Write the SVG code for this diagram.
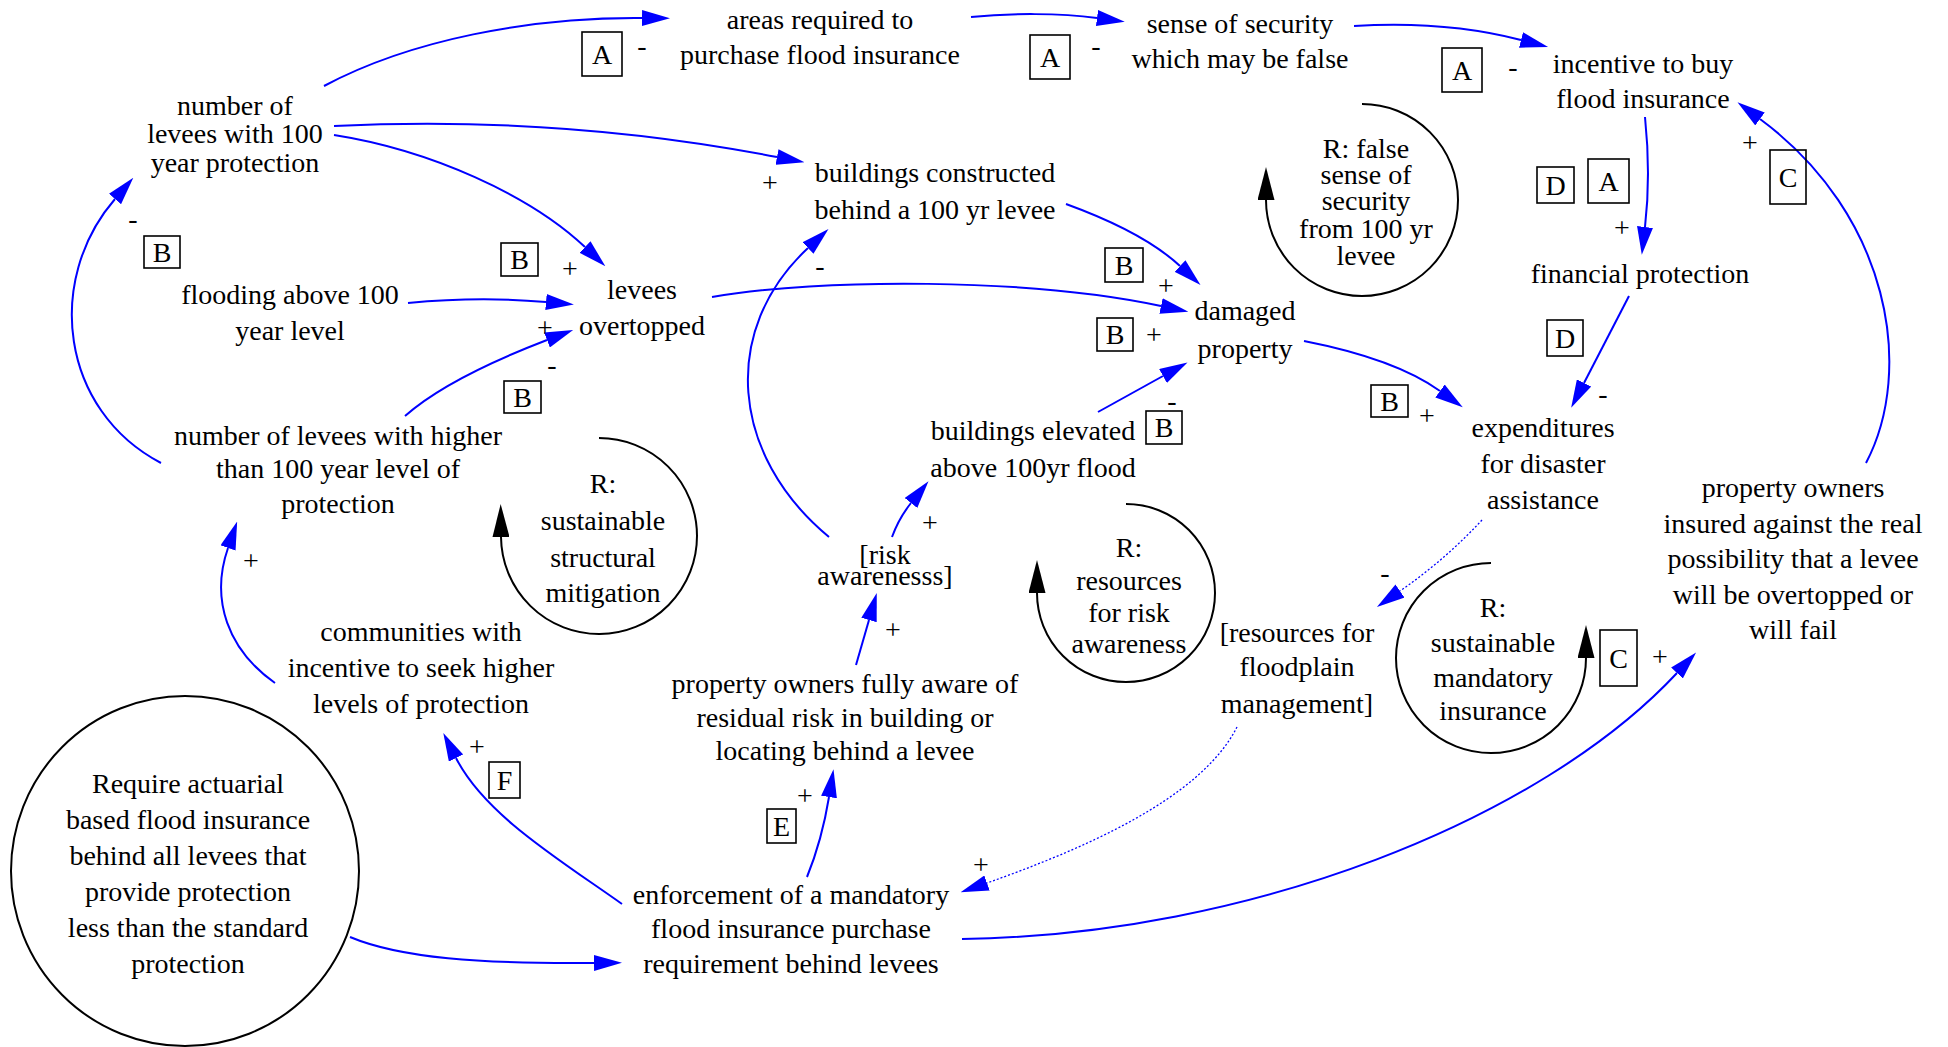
<svg xmlns="http://www.w3.org/2000/svg" width="1948" height="1047" viewBox="0 0 1948 1047">
<style>
.t{font-family:"Liberation Serif","Times New Roman",serif;font-size:28px;fill:#000;text-anchor:middle}
.e{fill:none;stroke:#0000ff;stroke-width:2}
.d{fill:none;stroke:#0000ff;stroke-width:1.3;stroke-dasharray:2,2}
.l{fill:none;stroke:#000;stroke-width:2}
.b{fill:none;stroke:#000;stroke-width:1.6}
</style>
<defs>
<marker id="ab" markerUnits="userSpaceOnUse" markerWidth="28" markerHeight="16" viewBox="0 0 28 16" refX="0" refY="8" orient="auto"><path d="M0,0 L28,8 L0,16 z" fill="#0000ff"/></marker>
<marker id="ak" markerUnits="userSpaceOnUse" markerWidth="33" markerHeight="17" viewBox="0 0 33 17" refX="0" refY="8.5" orient="auto"><path d="M0,0 L33,8.5 L0,17 z" fill="#000"/></marker>
</defs>
<rect width="1948" height="1047" fill="#fff"/>

<g id="connectors">
<path class="e" marker-end="url(#ab)" d="M324,86 C410,40 530,17 642,18"/>
<path class="e" marker-end="url(#ab)" d="M971,17 C1010,13 1060,13 1097,18"/>
<path class="e" marker-end="url(#ab)" d="M1354,26 C1420,22 1475,28 1521,40"/>
<path class="e" marker-end="url(#ab)" d="M334,126 Q560,115 777,157"/>
<path class="e" marker-end="url(#ab)" d="M334,135 C430,150 530,195 585,247"/>
<path class="e" marker-end="url(#ab)" d="M408,303 Q480,296 546,302"/>
<path class="e" marker-end="url(#ab)" d="M405,416 C440,385 495,360 547,340"/>
<path class="e" marker-end="url(#ab)" d="M712,297 C820,278 1030,278 1161,306"/>
<path class="e" marker-end="url(#ab)" d="M1066,204 C1110,220 1152,240 1180,266"/>
<path class="e" marker-end="url(#ab)" d="M1098,412 L1163,376"/>
<path class="e" marker-end="url(#ab)" d="M892,537 Q899,518 911,503"/>
<path class="e" marker-end="url(#ab)" d="M856,665 L869,620"/>
<path class="e" marker-end="url(#ab)" d="M829,537 C730,455 720,330 808,248"/>
<path class="e" marker-end="url(#ab)" d="M1304,341 C1360,352 1408,368 1440,391"/>
<path class="e" marker-end="url(#ab)" d="M1645,117 Q1651,175 1645,227"/>
<path class="e" marker-end="url(#ab)" d="M1629,296 L1584,383"/>
<path class="d" marker-end="url(#ab)" d="M1482,520 Q1445,560 1400,591"/>
<path class="d" marker-end="url(#ab)" d="M1237,727 C1200,800 1080,850 987,883"/>
<path class="e" marker-end="url(#ab)" d="M350,937 C400,958 480,964 594,963"/>
<path class="e" marker-end="url(#ab)" d="M622,904 C560,860 485,815 456,758"/>
<path class="e" marker-end="url(#ab)" d="M807,877 Q822,840 829,797"/>
<path class="e" marker-end="url(#ab)" d="M962,939 C1250,935 1540,820 1677,673"/>
<path class="e" marker-end="url(#ab)" d="M1866,463 C1915,370 1890,215 1760,119"/>
<path class="e" marker-end="url(#ab)" d="M161,463 C60,410 45,280 115,199"/>
<path class="e" marker-end="url(#ab)" d="M275,683 C228,650 210,600 228,548"/>
</g>

<g id="loops">
<g id="loop-false-security">
<path class="l" marker-end="url(#ak)" d="M1362,104 A96,96 0 1,1 1266,200"/>
<text class="t"><tspan x="1366" y="158">R: false</tspan><tspan x="1366" y="184">sense of</tspan><tspan x="1366" y="210">security</tspan><tspan x="1366" y="238">from 100 yr</tspan><tspan x="1366" y="265">levee</tspan></text>
</g>
<g id="loop-structural">
<path class="l" marker-end="url(#ak)" d="M599,438 A98,98 0 1,1 501,537"/>
<text class="t"><tspan x="603" y="493">R:</tspan><tspan x="603" y="530">sustainable</tspan><tspan x="603" y="567">structural</tspan><tspan x="603" y="602">mitigation</tspan></text>
</g>
<g id="loop-risk">
<path class="l" marker-end="url(#ak)" d="M1126,504 A89,89 0 1,1 1037,593"/>
<text class="t"><tspan x="1129" y="557">R:</tspan><tspan x="1129" y="590">resources</tspan><tspan x="1129" y="622">for risk</tspan><tspan x="1129" y="653">awareness</tspan></text>
</g>
<g id="loop-insurance">
<path class="l" marker-end="url(#ak)" d="M1491,563 A95,95 0 1,0 1586,658"/>
<text class="t"><tspan x="1493" y="617">R:</tspan><tspan x="1493" y="652">sustainable</tspan><tspan x="1493" y="687">mandatory</tspan><tspan x="1493" y="720">insurance</tspan></text>
</g>
</g>

<g id="n-levees100"><text class="t"><tspan x="235" y="115">number of</tspan><tspan x="235" y="143">levees with 100</tspan><tspan x="235" y="172">year protection</tspan></text></g>
<g id="n-areas"><text class="t"><tspan x="820" y="29">areas required to</tspan><tspan x="820" y="64">purchase flood insurance</tspan></text></g>
<g id="n-sense"><text class="t"><tspan x="1240" y="33">sense of security</tspan><tspan x="1240" y="68">which may be false</tspan></text></g>
<g id="n-incentive"><text class="t"><tspan x="1643" y="73">incentive to buy</tspan><tspan x="1643" y="108">flood insurance</tspan></text></g>
<g id="n-constructed"><text class="t"><tspan x="935" y="182">buildings constructed</tspan><tspan x="935" y="219">behind a 100 yr levee</tspan></text></g>
<g id="n-overtopped"><text class="t"><tspan x="642" y="299">levees</tspan><tspan x="642" y="335">overtopped</tspan></text></g>
<g id="n-flooding"><text class="t"><tspan x="290" y="304">flooding above 100</tspan><tspan x="290" y="340">year level</tspan></text></g>
<g id="n-damaged"><text class="t"><tspan x="1245" y="320">damaged</tspan><tspan x="1245" y="358">property</tspan></text></g>
<g id="n-elevated"><text class="t"><tspan x="1033" y="440">buildings elevated</tspan><tspan x="1033" y="477">above 100yr flood</tspan></text></g>
<g id="n-higher"><text class="t"><tspan x="338" y="445">number of levees with higher</tspan><tspan x="338" y="478">than 100 year level of</tspan><tspan x="338" y="513">protection</tspan></text></g>
<g id="n-communities"><text class="t"><tspan x="421" y="641">communities with</tspan><tspan x="421" y="677">incentive to seek higher</tspan><tspan x="421" y="713">levels of protection</tspan></text></g>
<g id="n-risk"><text class="t"><tspan x="885" y="564">[risk</tspan><tspan x="885" y="585">awarenesss]</tspan></text></g>
<g id="n-aware"><text class="t"><tspan x="845" y="693">property owners fully aware of</tspan><tspan x="845" y="727">residual risk in building or</tspan><tspan x="845" y="760">locating behind a levee</tspan></text></g>
<g id="n-enforcement"><text class="t"><tspan x="791" y="904">enforcement of a mandatory</tspan><tspan x="791" y="938">flood insurance purchase</tspan><tspan x="791" y="973">requirement behind levees</tspan></text></g>
<g id="n-resources"><text class="t"><tspan x="1297" y="642">[resources for</tspan><tspan x="1297" y="676">floodplain</tspan><tspan x="1297" y="713">management]</tspan></text></g>
<g id="n-expenditures"><text class="t"><tspan x="1543" y="437">expenditures</tspan><tspan x="1543" y="473">for disaster</tspan><tspan x="1543" y="509">assistance</tspan></text></g>
<g id="n-financial"><text class="t" x="1640" y="283">financial protection</text></g>
<g id="n-insured"><text class="t"><tspan x="1793" y="497">property owners</tspan><tspan x="1793" y="533">insured against the real</tspan><tspan x="1793" y="568">possibility that a levee</tspan><tspan x="1793" y="604">will be overtopped or</tspan><tspan x="1793" y="639">will fail</tspan></text></g>
<g id="n-require">
<ellipse class="l" cx="185" cy="871" rx="174" ry="175"/>
<text class="t"><tspan x="188" y="793">Require actuarial</tspan><tspan x="188" y="829">based flood insurance</tspan><tspan x="188" y="865">behind all levees that</tspan><tspan x="188" y="901">provide protection</tspan><tspan x="188" y="937">less than the standard</tspan><tspan x="188" y="973">protection</tspan></text>
</g>

<g id="signs" class="t">
<text x="642" y="55">-</text>
<text x="1096" y="55">-</text>
<text x="1513" y="76">-</text>
<text x="133" y="228">-</text>
<text x="552" y="374">-</text>
<text x="820" y="275">-</text>
<text x="1603" y="403">-</text>
<text x="1172" y="410">-</text>
<text x="1385" y="582">-</text>
<text x="570" y="278">+</text>
<text x="545" y="337">+</text>
<text x="770" y="192">+</text>
<text x="1166" y="295">+</text>
<text x="1154" y="344">+</text>
<text x="1622" y="237">+</text>
<text x="1750" y="152">+</text>
<text x="1427" y="425">+</text>
<text x="930" y="532">+</text>
<text x="251" y="570">+</text>
<text x="893" y="639">+</text>
<text x="1660" y="666">+</text>
<text x="477" y="756">+</text>
<text x="805" y="805">+</text>
<text x="981" y="874">+</text>
</g>

<g id="tags">
<g id="tag-a1"><rect class="b" x="582" y="32" width="40" height="44"/><text class="t" x="602" y="63.5">A</text></g>
<g id="tag-a2"><rect class="b" x="1030" y="35" width="40" height="44"/><text class="t" x="1050" y="66.5">A</text></g>
<g id="tag-a3"><rect class="b" x="1442" y="48" width="40" height="44"/><text class="t" x="1462" y="79.5">A</text></g>
<g id="tag-a4"><rect class="b" x="1588" y="159" width="41" height="44"/><text class="t" x="1608.5" y="190.5">A</text></g>
<g id="tag-d1"><rect class="b" x="1537" y="167" width="37" height="36"/><text class="t" x="1555.5" y="194.5">D</text></g>
<g id="tag-c1"><rect class="b" x="1770" y="150" width="36" height="54"/><text class="t" x="1788" y="186.5">C</text></g>
<g id="tag-d2"><rect class="b" x="1547" y="320" width="36" height="36"/><text class="t" x="1565" y="347.5">D</text></g>
<g id="tag-b1"><rect class="b" x="144" y="236" width="36" height="32"/><text class="t" x="162" y="261.5">B</text></g>
<g id="tag-b2"><rect class="b" x="501" y="243" width="37" height="33"/><text class="t" x="519.5" y="269">B</text></g>
<g id="tag-b3"><rect class="b" x="504" y="381" width="37" height="32"/><text class="t" x="522.5" y="406.5">B</text></g>
<g id="tag-b4"><rect class="b" x="1105" y="248" width="38" height="34"/><text class="t" x="1124" y="274.5">B</text></g>
<g id="tag-b5"><rect class="b" x="1097" y="318" width="36" height="33"/><text class="t" x="1115" y="344">B</text></g>
<g id="tag-b6"><rect class="b" x="1146" y="411" width="36" height="33"/><text class="t" x="1164" y="437">B</text></g>
<g id="tag-b7"><rect class="b" x="1371" y="385" width="37" height="32"/><text class="t" x="1389.5" y="410.5">B</text></g>
<g id="tag-c2"><rect class="b" x="1600" y="630" width="37" height="56"/><text class="t" x="1618.5" y="667.5">C</text></g>
<g id="tag-f"><rect class="b" x="489" y="762" width="31" height="36"/><text class="t" x="504.5" y="789.5">F</text></g>
<g id="tag-e"><rect class="b" x="767" y="809" width="29" height="34"/><text class="t" x="781.5" y="835.5">E</text></g>
</g>
</svg>
